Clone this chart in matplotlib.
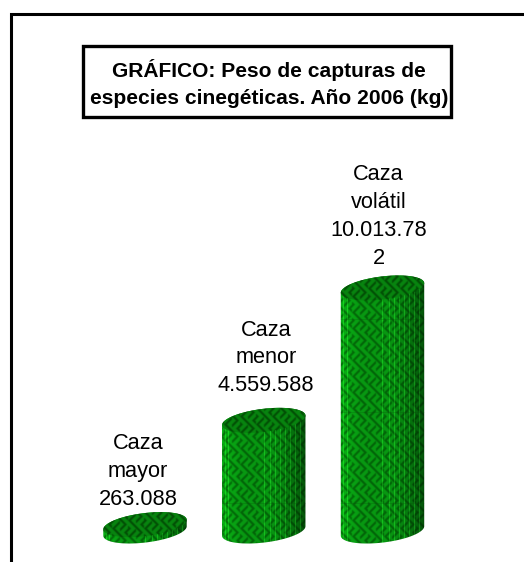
import numpy as np
import matplotlib
matplotlib.use("Agg")
import matplotlib.pyplot as plt
from matplotlib.path import Path
from matplotlib.patches import PathPatch, Rectangle
from matplotlib.transforms import IdentityTransform

# ---- data ----
categories = ["Caza\nmayor", "Caza\nmenor", "Caza\nvolátil"]
value_labels = ["263.088", "4.559.588", "10.013.78\n2"]
values = [263088, 4559588, 10013782]
grid_levels = [1150000, 4900000, 8730000]
label_gap_px = [20, 29, 24]
label_shift_px = [-7, 2, -4]
title = "GRÁFICO: Peso de capturas de\nespecies cinegéticas. Año 2006 (kg)"

# ---- layout ----
W, H = 524, 562
PX_PER_CAT = 118.75
PX_PER_VAL = 24.27e-6
X0_PX, Y0_PX = 145.0, 531.0
A, B, TILT = 42.0, 11.5, np.radians(7)
FACETS = [0.03, 0.07, 0.50, 0.58, 0.64, 0.70, 0.76, 0.82, 0.88, 0.94]

fig = plt.figure(figsize=(W / 100, H / 100), dpi=100, facecolor="white")
ax = fig.add_axes([0, 0, 1, 1])
xlim = ((0 - X0_PX) / PX_PER_CAT, (W - X0_PX) / PX_PER_CAT)
ylim = ((Y0_PX - H) / PX_PER_VAL, Y0_PX / PX_PER_VAL)
ax.set_xlim(xlim)
ax.set_ylim(ylim)
ax.axis("off")


def px_line(xs, ys, lw):
    fig.add_artist(plt.Line2D([x / W for x in xs], [1 - y / H for y in ys],
                              transform=fig.transFigure, color="black", lw=lw,
                              solid_capstyle="butt", solid_joinstyle="miter"))


# outer frame, open to the right and bottom
px_line([10.7, 10.7, W], [H, 13.5, 13.5], 2.2)

# title box
fig.add_artist(Rectangle((83 / W, 1 - 116.5 / H), 367.5 / W, 71 / H,
                         transform=fig.transFigure, fill=False,
                         edgecolor="black", lw=2.4))
fig.text(269 / W, 1 - 83.5 / H, title, ha="center", va="center", fontsize=15.1,
         fontweight="bold", family="Liberation Sans", linespacing=1.5)

# texture
yy, xx = np.mgrid[0:H, 0:W]


def texture(light, dark):
    block = 8
    band = (xx // block + (yy + xx // block * 4) // block) % 2
    diag = np.where(band == 0, xx + yy, xx - yy)
    mask = (diag % block < 3).astype(float)
    # soft blur, as in the reference
    m = mask.copy()
    for ax_i in (0, 1):
        m = 0.2 * np.roll(m, 1, ax_i) + 0.6 * m + 0.2 * np.roll(m, -1, ax_i)
    m = m[..., None]
    return (1 - m) * np.array(light) + m * np.array(dark)


tex_side = texture((0.03, 0.60, 0.07), (0.01, 0.38, 0.03))
tex_top = texture((0.03, 0.52, 0.06), (0.01, 0.30, 0.02))
t = np.linspace(0, 2 * np.pi, 241)
ext = (xlim[0], xlim[1], ylim[0], ylim[1])


def ellipse(c, ts):
    return np.column_stack([
        c[0] + A * np.cos(ts) * np.cos(TILT) - B * np.sin(ts) * np.sin(TILT),
        c[1] + A * np.cos(ts) * np.sin(TILT) + B * np.sin(ts) * np.cos(TILT),
    ])


t_r = np.arctan2(-B * np.sin(TILT), A * np.cos(TILT))
t_l = t_r + np.pi

for i, (v, cat, lab, gap, shift) in enumerate(zip(values, categories, value_labels,
                                                  label_gap_px, label_shift_px)):
    base = ax.transData.transform((i, 0))
    top = ax.transData.transform((i, v))
    low = ellipse(base, np.linspace(t_l, t_r + 2 * np.pi, 80))
    upp = ellipse(top, np.linspace(t_r, t_l, 80))
    side_path = Path(np.vstack([low, upp, low[:1]]), closed=True)
    x_left, x_right = low[0, 0], low[-1, 0]

    u = np.clip((xx + 0.5 - x_left) / (x_right - x_left), 0, 1)
    shade = 1.15 - 0.15 * np.clip(u / 0.25, 0, 1)
    shade = shade - 0.45 * np.clip((u - 0.55) / 0.45, 0, 1) ** 1.4
    img = tex_side * shade[..., None]
    for f in FACETS:
        col = int(round(x_left + f * (x_right - x_left)))
        img[:, col] = np.clip(img[:, col] + np.array([0.05, 0.16, 0.05]), 0, 1)
    im = ax.imshow(img, extent=ext, origin="upper", aspect="auto",
                   interpolation="nearest", zorder=2)
    im.set_clip_path(side_path, IdentityTransform())

    for g in grid_levels:
        if g < v:
            ln, = ax.plot([i - 0.4, i + 0.4], [g, g], color="#0a4a0a", lw=0.5,
                          alpha=0.3, zorder=2.5)
            ln.set_clip_path(side_path, IdentityTransform())

    im2 = ax.imshow(tex_top, extent=ext, origin="upper", aspect="auto",
                    interpolation="nearest", zorder=3)
    top_path = Path(ellipse(top, t), closed=True)
    im2.set_clip_path(top_path, IdentityTransform())

    ax.annotate(f"{cat}\n{lab}", xy=(i, v), xytext=(shift * 0.72, gap * 0.72),
                textcoords="offset points", ha="center", va="baseline",
                fontsize=15.7, family="Liberation Sans", linespacing=1.43,
                color="black", zorder=5, annotation_clip=False)

ax.set_xlim(xlim)
ax.set_ylim(ylim)
fig.savefig("out.png", dpi=100, facecolor="white")
